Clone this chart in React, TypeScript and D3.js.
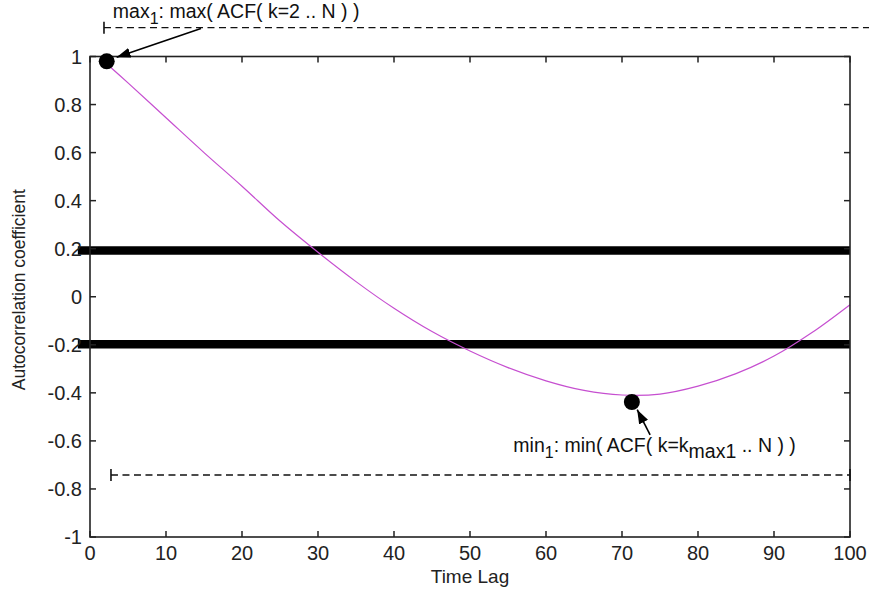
import React from "react";
import * as d3 from "d3";

const lags = [2, 5, 10, 15, 20, 25, 30, 35, 40, 45, 50, 55, 60, 65, 70, 75, 80, 85, 90, 95, 100];
const acf = [0.975, 0.89, 0.745, 0.6, 0.46, 0.315, 0.185, 0.063, -0.048, -0.145, -0.226, -0.295, -0.35, -0.39, -0.409, -0.405, -0.372, -0.32, -0.247, -0.149, -0.033];

const xTicks = [0, 10, 20, 30, 40, 50, 60, 70, 80, 90, 100];
const yTicks = [-1, -0.8, -0.6, -0.4, -0.2, 0, 0.2, 0.4, 0.6, 0.8, 1];
const yTickLabels = ["-1", "-0.8", "-0.6", "-0.4", "-0.2", "0", "0.2", "0.4", "0.6", "0.8", "1"];

const thresholds = [0.193, -0.198];
const thresholdSpan = [-1.6, 100];

const maxPoint = [2.2, 0.98];
const minPoint = [71.3, -0.438];

// arrows: [tailX, tailY, tipX, tipY] in data units
const arrows = [
  [14.6, 1.117, 3.5, 0.997],
  [73.7, -0.575, 72.0, -0.47],
];

// dashed range markers: [x0, x1, y, tickAtStart, tickAtEnd]
const ranges = [
  [1.84, 102.6, 1.12, 1, 0],
  [2.76, 100, -0.742, 1, 1],
];

const W = 869;
const H = 592;
const x = d3.scaleLinear().domain([0, 100]).range([90, 850]);
const y = d3.scaleLinear().domain([-1, 1]).range([537, 56.5]);

const FONT = "'Liberation Sans', Arial, Helvetica, sans-serif";
const CURVE = "#c64fd0";

export default function App() {
  const line = d3
    .line<number>()
    .x((_, i) => x(lags[i]))
    .y((d) => y(d))
    .curve(d3.curveCatmullRom.alpha(0.5));

  const axisColor = "#222";
  const tickLen = 6;

  return (
    <svg
      width={W}
      height={H}
      style={{ position: "absolute", left: 0, top: 0, background: "#fff" }}
      fontFamily={FONT}
    >
      <defs>
        <marker
          id="ah"
          viewBox="0 0 14 10"
          refX="14"
          refY="5"
          markerWidth="14"
          markerHeight="10"
          markerUnits="userSpaceOnUse"
          orient="auto"
        >
          <path d="M0,0 L14,5 L0,10 z" fill="#000" />
        </marker>
      </defs>
      <rect x={0} y={0} width={W} height={H} fill="#fff" />

      {/* threshold lines */}
      {thresholds.map((t, i) => (
        <line
          key={"th" + i}
          x1={x(thresholdSpan[0])}
          x2={x(thresholdSpan[1])}
          y1={y(t)}
          y2={y(t)}
          stroke="#000"
          strokeWidth={8.5}
        />
      ))}

      {/* curve */}
      <path d={line(acf) || ""} fill="none" stroke={CURVE} strokeWidth={1.2} />

      {/* axes box */}
      <rect
        x={x(0)}
        y={y(1)}
        width={x(100) - x(0)}
        height={y(-1) - y(1)}
        fill="none"
        stroke={axisColor}
        strokeWidth={1.6}
      />
      {xTicks.map((t) => (
        <g key={"xt" + t}>
          <line x1={x(t)} x2={x(t)} y1={y(-1)} y2={y(-1) - tickLen} stroke={axisColor} strokeWidth={1.5} />
          <line x1={x(t)} x2={x(t)} y1={y(1)} y2={y(1) + tickLen} stroke={axisColor} strokeWidth={1.5} />
          <text x={x(t)} y={560} textAnchor="middle" fontSize={20} fill="#222">
            {t}
          </text>
        </g>
      ))}
      {yTicks.map((t, i) => (
        <g key={"yt" + i}>
          <line x1={x(0)} x2={x(0) + tickLen} y1={y(t)} y2={y(t)} stroke={axisColor} strokeWidth={1.5} />
          <line x1={x(100)} x2={x(100) - tickLen} y1={y(t)} y2={y(t)} stroke={axisColor} strokeWidth={1.5} />
          <text x={82} y={y(t)} dy="0.36em" textAnchor="end" fontSize={20} fill="#222">
            {yTickLabels[i]}
          </text>
        </g>
      ))}

      {/* axis labels */}
      <text x={x(50)} y={583} textAnchor="middle" fontSize={19} fill="#222">
        Time Lag
      </text>
      <text
        transform={`translate(25, ${y(0) - 7}) rotate(-90)`}
        textAnchor="middle"
        fontSize={17.5}
        fill="#222"
      >
        Autocorrelation coefficient
      </text>

      {/* dashed range markers */}
      {ranges.map((r, i) => (
        <g key={"rg" + i}>
          <line
            x1={x(r[0])}
            x2={x(r[1])}
            y1={y(r[2])}
            y2={y(r[2])}
            stroke="#111"
            strokeWidth={1.4}
            strokeDasharray="7,4.5"
          />
          {r[3] ? (
            <line x1={x(r[0])} x2={x(r[0])} y1={y(r[2]) - 6} y2={y(r[2]) + 6} stroke="#111" strokeWidth={1.6} />
          ) : null}
          {r[4] ? (
            <line x1={x(r[1])} x2={x(r[1])} y1={y(r[2]) - 6} y2={y(r[2]) + 6} stroke="#111" strokeWidth={1.6} />
          ) : null}
        </g>
      ))}

      {/* points */}
      <circle cx={x(maxPoint[0])} cy={y(maxPoint[1])} r={8} fill="#000" />
      <circle cx={x(minPoint[0])} cy={y(minPoint[1])} r={8} fill="#000" />

      {/* arrows */}
      {arrows.map((a, i) => (
        <line
          key={"ar" + i}
          x1={x(a[0])}
          y1={y(a[1])}
          x2={x(a[2])}
          y2={y(a[3])}
          stroke="#000"
          strokeWidth={1.6}
          markerEnd="url(#ah)"
        />
      ))}

      {/* annotations */}
      <text x={x(3.0)} y={y(1.159)} fontSize={19.5} fill="#111">
        <tspan>max</tspan>
        <tspan dy={6} fontSize={16}>1</tspan>
        <tspan dy={-6}>: max( ACF( k=2 .. N ) )</tspan>
      </text>
      <text x={x(55.7)} y={y(-0.646)} fontSize={19.5} fill="#111">
        <tspan>min</tspan>
        <tspan dy={6} fontSize={16}>1</tspan>
        <tspan dy={-6}>: min( ACF( k=k</tspan>
        <tspan dy={6}>max1</tspan>
        <tspan dy={-6}> .. N ) )</tspan>
      </text>
    </svg>
  );
}
